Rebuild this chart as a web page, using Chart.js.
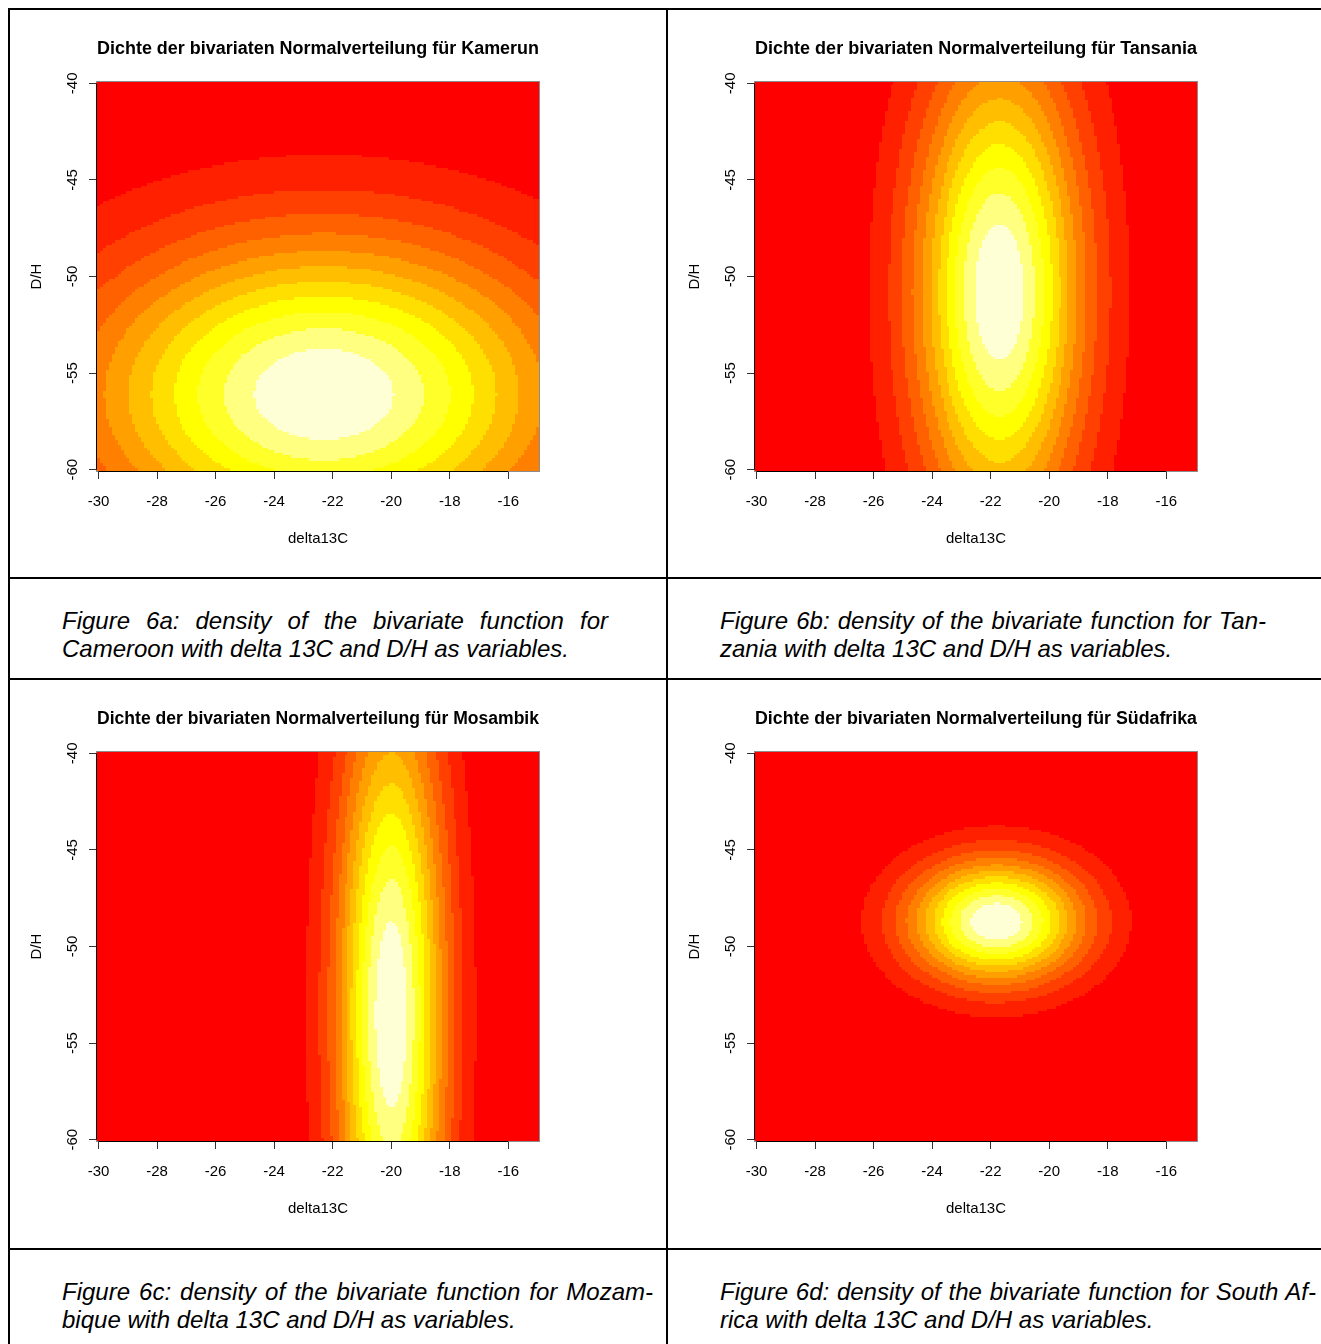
<!DOCTYPE html>
<html>
<head>
<meta charset="utf-8">
<script src="https://cdn.jsdelivr.net/npm/chart.js@4.4.0/dist/chart.umd.min.js"></script>
<style>
  body { margin: 0; background: #fff; width: 1321px; height: 1344px; overflow: hidden; position: relative; font-family: "Liberation Sans", Arial, sans-serif; }
  .hline { position: absolute; height: 2px; background: #000; }
  .vline { position: absolute; width: 2px; background: #000; }
  canvas.panel { position: absolute; }
  .caption { position: absolute; font-style: italic; font-size: 24px; line-height: 28px; color: #000; }
  .caption .l1 { text-align: justify; text-align-last: justify; }
</style>
</head>
<body>
<div class="hline" style="left:8px; top:8px; width:1313px;"></div>
<div class="hline" style="left:8px; top:577px; width:1313px;"></div>
<div class="hline" style="left:8px; top:678px; width:1313px;"></div>
<div class="hline" style="left:8px; top:1248px; width:1313px;"></div>
<div class="vline" style="left:8px; top:8px; height:1336px;"></div>
<div class="vline" style="left:666px; top:8px; height:1336px;"></div>

<script>
// panels, in reading order
var countries = ['Kamerun', 'Tansania', 'Mosambik', 'Südafrika'];

// centre and spread of each density
var centerC  = [-22.3, -21.7, -20.0, -21.8];
var centerDH = [-56.1, -50.8, -53.5, -48.7];
var spreadC  = [5.7, 2.0, 1.3, 2.07];
var spreadDH = [5.65, 8.5, 11.5, 2.22];

// evaluation grid (R image grid)
var gridC  = [-30, -15];
var gridDH = [-60, -40];
var gridCount = 150;

var xTicks = [-30, -28, -26, -24, -22, -20, -18, -16];
var yTicks = [-60, -55, -50, -45, -40];

// heat.colors(12)
var heatColors = ['#FF0000', '#FF2000', '#FF4000', '#FF6000', '#FF8000', '#FF9F00',
                  '#FFBF00', '#FFDF00', '#FFFF00', '#FFFF2A', '#FFFF80', '#FFFFD5'];

var captionLine1 = [
  'Figure 6a: density of the bivariate function for',
  'Figure 6b: density of the bivariate function for Tan-',
  'Figure 6c: density of the bivariate function for Mozam-',
  'Figure 6d: density of the bivariate function for South Af-'
];
var captionLine2 = [
  'Cameroon with delta 13C and D/H as variables.',
  'zania with delta 13C and D/H as variables.',
  'bique with delta 13C and D/H as variables.',
  'rica with delta 13C and D/H as variables.'
];
var captionWidth = [546, 546, 591, 596];

var FONT = '"Liberation Sans", Arial, sans-serif';
var stepC = (gridC[1] - gridC[0]) / (gridCount - 1);
var stepDH = (gridDH[1] - gridDH[0]) / (gridCount - 1);

function buildCells(k) {
    var zs = [];
    var zMin = Infinity, zMax = -Infinity;
    for (var j = 0; j < gridCount; j++) {
        var y = gridDH[0] + j * stepDH;
        for (var i = 0; i < gridCount; i++) {
            var x = gridC[0] + i * stepC;
            var dx = (x - centerC[k]) / spreadC[k];
            var dy = (y - centerDH[k]) / spreadDH[k];
            var z = Math.exp(-0.5 * (dx * dx + dy * dy));
            zs.push({x: x, y: y, z: z});
            if (z < zMin) zMin = z;
            if (z > zMax) zMax = z;
        }
    }
    var cells = [];
    for (var n = 0; n < zs.length; n++) {
        var u = (zs[n].z - zMin) / (zMax - zMin);
        var band = Math.min(11, Math.max(0, Math.ceil(u * 12) - 1));
        cells.push({x: zs[n].x, y: zs[n].y, band: band});
    }
    return cells;
}

var heatmap = {
    id: 'heatmap',
    beforeDatasetsDraw: function(chart) {
        var ctx = chart.ctx, a = chart.chartArea;
        var xs = chart.scales.x, ys = chart.scales.y;
        var cells = chart.data.datasets[0].data;
        ctx.save();
        ctx.beginPath();
        ctx.rect(a.left, a.top, a.right - a.left, a.bottom - a.top);
        ctx.clip();
        var i = 0;
        while (i < cells.length) {
            var c = cells[i];
            var k = i + 1;
            while (k < cells.length && cells[k].y === c.y && cells[k].band === c.band) k++;
            var last = cells[k - 1];
            var x0 = Math.round(xs.getPixelForValue(c.x - stepC / 2));
            var x1 = Math.round(xs.getPixelForValue(last.x + stepC / 2));
            var y0 = Math.round(ys.getPixelForValue(c.y + stepDH / 2));
            var y1 = Math.round(ys.getPixelForValue(c.y - stepDH / 2));
            ctx.fillStyle = heatColors[c.band];
            ctx.fillRect(x0, y0, x1 - x0, y1 - y0);
            i = k;
        }
        ctx.restore();
    }
};

var frame = {
    id: 'frame',
    afterDraw: function(chart) {
        var ctx = chart.ctx, a = chart.chartArea;
        var xs = chart.scales.x, ys = chart.scales.y;
        ctx.save();
        ctx.lineWidth = 1;
        ctx.strokeStyle = '#8c8c8c';
        ctx.strokeRect(a.left - 0.5, a.top - 0.5, a.right - a.left + 1, a.bottom - a.top + 1);
        ctx.strokeStyle = '#000';
        ctx.beginPath();
        ctx.moveTo(xs.getPixelForValue(xTicks[0]), a.bottom + 0.5);
        ctx.lineTo(xs.getPixelForValue(xTicks[xTicks.length - 1]), a.bottom + 0.5);
        ctx.moveTo(a.left - 0.5, ys.getPixelForValue(yTicks[0]));
        ctx.lineTo(a.left - 0.5, ys.getPixelForValue(yTicks[yTicks.length - 1]));
        ctx.stroke();
        ctx.restore();
    }
};

function makePanel(k) {
    var col = k % 2, row = Math.floor(k / 2);
    var canvas = document.createElement('canvas');
    canvas.className = 'panel';
    canvas.width = 655;
    canvas.height = 566;
    canvas.style.left = (10 + col * 658) + 'px';
    canvas.style.top = (11 + row * 670) + 'px';
    document.body.appendChild(canvas);

    var cap = document.createElement('div');
    cap.className = 'caption';
    cap.style.left = (62 + col * 658) + 'px';
    cap.style.top = (607 + row * 671) + 'px';
    cap.style.width = captionWidth[k] + 'px';
    var l1 = document.createElement('div');
    l1.className = 'l1';
    l1.textContent = captionLine1[k];
    var l2 = document.createElement('div');
    l2.textContent = captionLine2[k];
    cap.appendChild(l1);
    cap.appendChild(l2);
    document.body.appendChild(cap);

    var tickFont = {family: FONT, size: 15};

    new Chart(canvas.getContext('2d'), {
        type: 'scatter',
        data: {
            datasets: [{
                data: buildCells(k),
                pointRadius: 0,
                showLine: false
            }]
        },
        options: {
            responsive: false,
            animation: false,
            events: [],
            parsing: false,
            layout: {padding: {left: 0, right: 126, top: 0, bottom: 26}},
            plugins: {
                legend: {display: false},
                tooltip: {enabled: false},
                title: {
                    display: true,
                    fullSize: false,
                    text: 'Dichte der bivariaten Normalverteilung für ' + countries[k],
                    color: '#000',
                    font: {family: FONT, size: 18, weight: 'bold', lineHeight: 1.2},
                    padding: {top: 27, bottom: 22.4}
                }
            },
            scales: {
                x: {
                    type: 'linear',
                    position: 'bottom',
                    min: gridC[0] - stepC / 2,
                    max: gridC[1] + stepC / 2,
                    afterBuildTicks: function(s) { s.ticks = xTicks.map(function(v) { return {value: v}; }); },
                    afterFit: function(s) { s.height = 80; },
                    grid: {display: true, drawOnChartArea: false, drawTicks: true, tickLength: 8, color: '#333', lineWidth: 1},
                    border: {display: false},
                    ticks: {color: '#000', font: tickFont, padding: 14, minRotation: 0, maxRotation: 0, autoSkip: false,
                            callback: function(v) { return String(v); }},
                    title: {display: true, text: 'delta13C', color: '#000', font: tickFont, padding: {top: 0, bottom: 3}}
                },
                y: {
                    type: 'linear',
                    position: 'left',
                    min: gridDH[0] - stepDH / 2,
                    max: gridDH[1] + stepDH / 2,
                    afterBuildTicks: function(s) { s.ticks = yTicks.map(function(v) { return {value: v}; }); },
                    afterFit: function(s) { s.width = 87; },
                    grid: {display: true, drawOnChartArea: false, drawTicks: true, tickLength: 8, color: '#333', lineWidth: 1},
                    border: {display: false},
                    ticks: {color: '#000', font: tickFont, padding: 5, minRotation: 90, maxRotation: 90, crossAlign: 'center', autoSkip: false,
                            callback: function(v) { return String(v); }},
                    title: {display: true, text: 'D/H', color: '#000', font: tickFont, padding: {top: 18, bottom: 0}}
                }
            }
        },
        plugins: [heatmap, frame]
    });
}

for (var k = 0; k < countries.length; k++) makePanel(k);
</script>
</body>
</html>
